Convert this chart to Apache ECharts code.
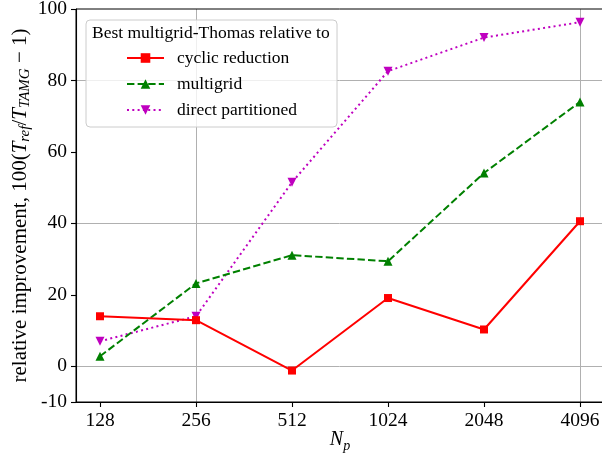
<!DOCTYPE html>
<html>
<head>
<meta charset="utf-8">
<script src="https://cdn.jsdelivr.net/npm/echarts@6/dist/echarts.min.js"></script>
<style>
html,body{margin:0;padding:0;background:#fff;}
#chart{width:602px;height:463px;}
</style>
</head>
<body>
<div id="chart"></div>
<script>
// Data
var procs = [128, 256, 512, 1024, 2048, 4096];
var cyclicReduction = [14.0, 12.9, -1.2, 19.1, 10.3, 40.6];
var multigrid = [2.8, 23.2, 31.1, 29.4, 54.1, 74.0];
var directPartitioned = [7.0, 14.0, 51.5, 82.6, 92.0, 96.3];
var yTicks = [-10, 0, 20, 40, 60, 80, 100];
var legendTitle = 'Best multigrid-Thomas relative to';
var seriesNames = ['cyclic reduction', 'multigrid', 'direct partitioned'];

var FONT = '"Liberation Serif", "DejaVu Serif", serif';
var xTickVals = procs.map(function (p) { return Math.log2(p); });
function pts(vals) { return procs.map(function (p, i) { return [Math.log2(p), vals[i]]; }); }

var chart = echarts.init(document.getElementById('chart'), null, {renderer: 'canvas'});
var gridColor = '#b0b0b0';
var option = {
  animation: false,
  backgroundColor: '#ffffff',
  textStyle: {fontFamily: FONT},
  grid: {left: 76, top: 9, width: 528, height: 393, containLabel: false, outerBoundsMode: 'none',
    show: true, borderColor: '#000', borderWidth: 1, backgroundColor: 'transparent', z: 1},
  title: {
    text: legendTitle, left: 92, top: 23, padding: 0, z: 20,
    textStyle: {fontFamily: FONT, fontSize: 17.5, fontWeight: 'normal', color: '#000', lineHeight: 20}
  },
  legend: {
    orient: 'vertical', left: 86, top: 20,
    padding: [28, 40, 7, 40],
    itemWidth: 37, itemHeight: 12, itemGap: 6,
    backgroundColor: 'rgba(255,255,255,0.8)', borderColor: '#cccccc', borderWidth: 1, borderRadius: 4,
    textStyle: {fontFamily: FONT, fontSize: 17.5, color: '#000', lineHeight: 20, padding: [0, 0, 0, 8]},
    data: seriesNames,
    z: 10
  },
  xAxis: {
    type: 'value', min: 6.75, max: 12.25, interval: 0.25,
    name: '{it|N}{sub|p}', nameLocation: 'middle', nameGap: 25, nameMoveOverlap: false,
    nameTextStyle: {rich: {
      it: {fontFamily: FONT, fontStyle: 'italic', fontSize: 20, color: '#000', lineHeight: 26, verticalAlign: 'middle'},
      sub: {fontFamily: FONT, fontStyle: 'italic', fontSize: 14, color: '#000', lineHeight: 26, verticalAlign: 'bottom'}
    }},
    axisLine: {show: true, onZero: false, lineStyle: {color: '#000', width: 1.1}},
    axisTick: {show: true, inside: false, length: 5, customValues: xTickVals, lineStyle: {color: '#000', width: 1.1}},
    axisLabel: {customValues: xTickVals, margin: 9, fontFamily: FONT, fontSize: 19.5, color: '#000',
      formatter: function (v) { return String(Math.round(Math.pow(2, v))); }},
    splitLine: {show: true, lineStyle: {color: ['transparent', gridColor, 'transparent', 'transparent'], width: 1}}
  },
  yAxis: {
    type: 'value', min: -10, max: 100, interval: 10,
    name: 'relative improvement, {n|100(}{it|T}{sub|ref}{n|/}{it|T}{sub|TAMG}{n| − 1)}',
    nameLocation: 'middle', nameGap: 43, nameRotate: 90, nameMoveOverlap: false,
    nameTextStyle: {fontFamily: FONT, fontSize: 21, color: '#000', lineHeight: 26, rich: {
      n: {fontFamily: FONT, fontSize: 21, color: '#000', lineHeight: 26, verticalAlign: 'middle'},
      it: {fontFamily: FONT, fontStyle: 'italic', fontSize: 21, color: '#000', lineHeight: 26, verticalAlign: 'middle'},
      sub: {fontFamily: FONT, fontStyle: 'italic', fontSize: 15, color: '#000', lineHeight: 26, verticalAlign: 'bottom'}
    }},
    axisLine: {show: true, onZero: false, lineStyle: {color: '#000', width: 1.1}},
    axisTick: {show: true, inside: false, length: 5, customValues: yTicks, lineStyle: {color: '#000', width: 1.1}},
    axisLabel: {customValues: yTicks, margin: 9, fontFamily: FONT, fontSize: 19.5, color: '#000'},
    splitLine: {show: true, lineStyle: {color: ['transparent', gridColor], width: 1}}
  },
  series: [
    {
      name: seriesNames[0], type: 'line', data: pts(cyclicReduction),
      symbol: 'rect', symbolSize: 8, showAllSymbol: true,
      lineStyle: {color: '#ff0000', width: 2},
      itemStyle: {color: '#ff0000'}, z: 5
    },
    {
      name: seriesNames[1], type: 'line', data: pts(multigrid),
      symbol: 'triangle', symbolSize: 9, showAllSymbol: true,
      lineStyle: {color: '#008000', width: 2, type: [7.4, 3.2]},
      itemStyle: {color: '#008000'}, z: 4
    },
    {
      name: seriesNames[2], type: 'line', data: pts(directPartitioned),
      symbol: 'triangle', symbolRotate: 180, symbolSize: 9, showAllSymbol: true,
      lineStyle: {color: '#bf00bf', width: 2, type: [2, 3.3]},
      itemStyle: {color: '#bf00bf'}, z: 3
    }
  ]
};
chart.setOption(option);
</script>
</body>
</html>
